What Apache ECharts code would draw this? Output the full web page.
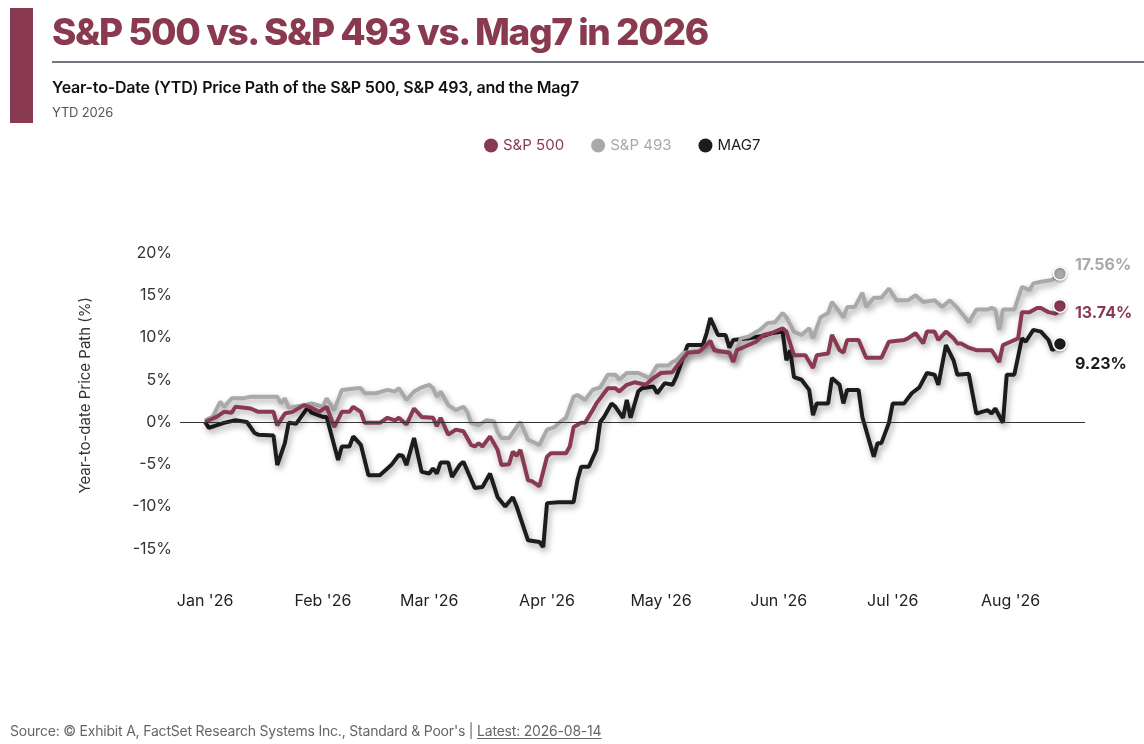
<!DOCTYPE html>
<html>
<head>
<meta charset="utf-8">
<script src="https://cdn.jsdelivr.net/npm/echarts@6/dist/echarts.min.js"></script>
<style>
  html, body { margin:0; padding:0; background:#fff; }
  #wrap { position:relative; width:1144px; height:744px; overflow:hidden; font-family:Inter, "Noto Sans", sans-serif; }
  #chart { position:absolute; left:0; top:0; width:1144px; height:744px; }
  #bar { position:absolute; left:10px; top:8px; width:23px; height:115px; background:#8a3a50; }
  #title { position:absolute; left:52px; top:9px; font-size:37px; font-weight:800; color:#8a3a50; letter-spacing:-1.4px; white-space:nowrap; line-height:46px; }
  #rule { position:absolute; left:52px; top:61px; right:0; height:2px; background:#6f7782; }
  #subtitle { position:absolute; left:52px; top:77px; font-size:16px; font-weight:600; color:#111; letter-spacing:-0.2px; white-space:nowrap; line-height:20px; }
  #ytd { position:absolute; left:52px; top:104px; font-size:13px; color:#555; letter-spacing:-0.2px; white-space:nowrap; line-height:17px; }
  #footer { position:absolute; left:10px; top:722px; font-size:14px; color:#666; letter-spacing:-0.2px; white-space:nowrap; line-height:18px; }
  #footer u { text-decoration:underline; text-underline-offset:2px; }
</style>
</head>
<body>
<div id="wrap">
  <div id="chart"></div>
  <div id="bar"></div>
  <div id="title">S&amp;P 500 vs. S&amp;P 493 vs. Mag7 in 2026</div>
  <div id="rule"></div>
  <div id="subtitle">Year-to-Date (YTD) Price Path of the S&amp;P 500, S&amp;P 493, and the Mag7</div>
  <div id="ytd">YTD 2026</div>
  <div id="footer">Source: © Exhibit A, FactSet Research Systems Inc., Standard &amp; Poor's | <u>Latest: 2026-08-14</u></div>
</div>
<script>
// ---------------- DATA ----------------
const seriesNames = ['S&P 500', 'S&P 493', 'MAG7'];
const monthLabels = ["Jan", "Feb", "Mar", "Apr", "May", "Jun", "Jul", "Aug", "Sep", "Oct", "Nov", "Dec"];
const yTickLabels = ['-15%', '-10%', '-5%', '0%', '5%', '10%', '15%', '20%'];

const sp500Dates = ['2026-01-01','2026-01-04','2026-01-06','2026-01-08','2026-01-09','2026-01-13','2026-01-15','2026-01-19','2026-01-20','2026-01-22','2026-01-24','2026-01-27','2026-01-29','2026-01-31',
'2026-02-02','2026-02-04','2026-02-06','2026-02-08','2026-02-09','2026-02-11','2026-02-12','2026-02-16','2026-02-18','2026-02-20','2026-02-21','2026-02-23','2026-02-25','2026-02-27',
'2026-03-02','2026-03-03','2026-03-04','2026-03-06','2026-03-08','2026-03-10','2026-03-12','2026-03-13','2026-03-14','2026-03-15','2026-03-17','2026-03-19','2026-03-20','2026-03-22','2026-03-23','2026-03-24','2026-03-25','2026-03-27','2026-03-28','2026-03-30',
'2026-04-01','2026-04-02','2026-04-06','2026-04-07','2026-04-08','2026-04-10','2026-04-11','2026-04-13','2026-04-14','2026-04-17','2026-04-19','2026-04-20','2026-04-22','2026-04-24','2026-04-27','2026-04-29',
'2026-05-01','2026-05-04','2026-05-05','2026-05-07','2026-05-08','2026-05-11','2026-05-14','2026-05-15','2026-05-19','2026-05-20','2026-05-21','2026-05-23','2026-05-26','2026-05-28','2026-05-30',
'2026-06-02','2026-06-03','2026-06-05','2026-06-08','2026-06-10','2026-06-11','2026-06-14','2026-06-15','2026-06-17','2026-06-18','2026-06-19','2026-06-22','2026-06-24','2026-06-28','2026-06-30',
'2026-07-04','2026-07-05','2026-07-07','2026-07-09','2026-07-10','2026-07-12','2026-07-13','2026-07-15','2026-07-17','2026-07-18','2026-07-19','2026-07-21','2026-07-23','2026-07-27','2026-07-29','2026-07-30',
'2026-08-01','2026-08-03','2026-08-04','2026-08-06','2026-08-08','2026-08-09','2026-08-11','2026-08-13','2026-08-14'];
const sp500Values = [0,0.6,1.2,1.1,1.8,1.6,1.2,1.2,-0.4,1.0,1.2,2.0,1.7,1.2,
1.8,-0.6,1.2,1.2,1.8,1.2,-0.1,-0.1,0.5,0.2,0.5,-0.3,1.6,0.6,
0.5,-0.5,0.5,-1.5,-0.9,-1.1,-2.7,-2.9,-2.5,-2.9,-1.7,-3.3,-5.1,-5.0,-3.5,-4.0,-3.3,-6.9,-7.0,-7.6,
-4.1,-3.7,-3.7,-2.9,-0.6,-0.1,-0.1,1.4,2.2,4.0,4.0,3.6,4.4,4.7,4.4,5.2,
5.8,5.9,6.5,7.6,8.2,8.3,9.6,8.5,8.2,7.1,8.5,8.9,9.5,10.3,10.5,
11.1,10.7,7.9,7.9,6.4,7.9,8.1,10.3,8.5,8.2,9.7,9.7,7.6,7.6,9.5,
9.7,9.9,10.5,9.3,10.7,10.7,9.7,10.7,9.9,9.3,9.3,8.8,8.5,8.5,7.1,9.1,
9.5,9.9,13.0,13.0,13.5,13.5,13.0,12.8,13.74];

const sp493Dates = ['2026-01-01','2026-01-03','2026-01-05','2026-01-06','2026-01-08','2026-01-11','2026-01-13','2026-01-20','2026-01-21','2026-01-22','2026-01-23','2026-01-27','2026-01-29',
'2026-02-01','2026-02-02','2026-02-04','2026-02-06','2026-02-10','2026-02-11','2026-02-12','2026-02-15','2026-02-18','2026-02-20','2026-02-21','2026-02-23','2026-02-25','2026-02-27',
'2026-03-01','2026-03-02','2026-03-03','2026-03-04','2026-03-06','2026-03-08','2026-03-10','2026-03-11','2026-03-12','2026-03-14','2026-03-16','2026-03-18','2026-03-19','2026-03-20','2026-03-22','2026-03-24','2026-03-25','2026-03-27','2026-03-30',
'2026-04-01','2026-04-03','2026-04-05','2026-04-06','2026-04-08','2026-04-09','2026-04-11','2026-04-13','2026-04-15','2026-04-17','2026-04-19','2026-04-20','2026-04-22','2026-04-25','2026-04-26','2026-04-28','2026-04-30',
'2026-05-03','2026-05-04','2026-05-05','2026-05-07','2026-05-09','2026-05-12','2026-05-14','2026-05-16','2026-05-19','2026-05-20','2026-05-22','2026-05-24','2026-05-27','2026-05-29','2026-05-31',
'2026-06-02','2026-06-03','2026-06-05','2026-06-07','2026-06-09','2026-06-10','2026-06-12','2026-06-14','2026-06-15','2026-06-17','2026-06-18','2026-06-19','2026-06-21','2026-06-23','2026-06-24','2026-06-26','2026-06-28','2026-06-30',
'2026-07-02','2026-07-05','2026-07-07','2026-07-09','2026-07-12','2026-07-14','2026-07-16','2026-07-18','2026-07-20','2026-07-21','2026-07-23','2026-07-26','2026-07-27','2026-07-28','2026-07-29','2026-07-30',
'2026-08-02','2026-08-04','2026-08-06','2026-08-07','2026-08-09','2026-08-12','2026-08-13','2026-08-14'];
const sp493Values = [0.2,0.6,2.4,1.8,2.8,2.8,3.0,3.0,2.2,2.8,1.7,2.0,2.2,
1.8,2.8,1.4,3.8,4.0,4.0,3.4,3.4,3.8,3.6,4.0,2.6,3.6,4.1,
4.4,4.0,3.0,3.6,2.0,1.4,1.8,1.2,-0.1,-0.4,0.2,0.1,-1.2,-1.9,-1.9,-0.6,0,-2.1,-2.7,
-0.9,-0.6,0.2,0.5,3.0,3.2,2.6,3.8,4.1,5.6,5.6,5.0,5.8,5.8,5.6,5.2,6.7,
6.7,7.1,7.3,8.2,8.3,8.5,9.1,8.3,8.3,7.3,9.9,10.1,10.9,11.7,11.8,
12.9,12.4,10.7,10.3,11.1,9.9,12.4,12.9,14.2,13.0,12.4,13.6,13.6,15.3,13.6,14.7,14.7,15.8,
14.4,14.4,15.0,14.2,14.4,13.6,14.4,13.5,12.4,11.8,13.3,13.3,13.5,13.3,10.9,13.3,
13.3,16.0,15.6,16.4,16.6,16.8,17.2,17.56];

const mag7Dates = ['2026-01-01','2026-01-02','2026-01-06','2026-01-09','2026-01-12','2026-01-14','2026-01-15','2026-01-19','2026-01-20','2026-01-22','2026-01-23','2026-01-25','2026-01-28','2026-01-29',
'2026-02-01','2026-02-02','2026-02-05','2026-02-06','2026-02-08','2026-02-09','2026-02-11','2026-02-13','2026-02-16','2026-02-19','2026-02-21','2026-02-22','2026-02-23','2026-02-25','2026-02-27',
'2026-03-01','2026-03-02','2026-03-03','2026-03-04','2026-03-06','2026-03-07','2026-03-09','2026-03-10','2026-03-13','2026-03-15','2026-03-17','2026-03-19','2026-03-21','2026-03-23','2026-03-24','2026-03-27','2026-03-30','2026-03-31',
'2026-04-01','2026-04-04','2026-04-08','2026-04-09','2026-04-10','2026-04-12','2026-04-14','2026-04-15','2026-04-16','2026-04-18','2026-04-19','2026-04-21','2026-04-22','2026-04-23','2026-04-25','2026-04-26','2026-04-29','2026-04-30',
'2026-05-02','2026-05-04','2026-05-05','2026-05-08','2026-05-12','2026-05-13','2026-05-14','2026-05-16','2026-05-18','2026-05-19','2026-05-20','2026-05-24','2026-05-28','2026-05-30',
'2026-06-02','2026-06-03','2026-06-04','2026-06-05','2026-06-07','2026-06-09','2026-06-10','2026-06-11','2026-06-14','2026-06-15','2026-06-17','2026-06-18','2026-06-19','2026-06-22','2026-06-23','2026-06-26','2026-06-27','2026-06-28','2026-06-30',
'2026-07-01','2026-07-04','2026-07-06','2026-07-08','2026-07-10','2026-07-12','2026-07-13','2026-07-15','2026-07-17','2026-07-18','2026-07-21','2026-07-23','2026-07-26','2026-07-27','2026-07-28','2026-07-30','2026-07-31',
'2026-08-02','2026-08-04','2026-08-05','2026-08-07','2026-08-09','2026-08-11','2026-08-12','2026-08-13','2026-08-14'];
const mag7Values = [0,-0.7,-0.1,0.2,0,-1.3,-1.5,-1.6,-5.1,-2.5,-0.1,-0.2,1.7,1.1,
0.6,0.6,-4.5,-2.9,-2.9,-1.7,-2.7,-6.3,-6.3,-5.1,-3.9,-4.0,-5.1,-1.9,-5.9,
-6.1,-5.5,-6.1,-4.8,-4.8,-6.5,-5.1,-4.7,-7.8,-7.7,-6.1,-8.9,-10.0,-8.9,-10.0,-14.0,-14.2,-14.8,
-9.6,-9.5,-9.5,-6.9,-5.3,-5.3,-3.3,0,0.6,2.2,1.8,0.5,2.6,0.5,3.6,4.0,4.2,3.4,
4.6,4.4,5.3,9.1,9.1,10.5,12.3,10.3,10.3,8.8,9.7,9.9,10.2,10.5,
10.7,7.3,8.5,5.3,5.0,3.8,0.8,2.2,2.2,5.2,4.4,2.2,3.8,3.8,0.6,-4.1,-2.5,-2.5,-0.1,
2.2,2.2,3.4,4.1,5.8,5.6,4.4,9.1,7.3,5.6,5.7,1.0,1.4,1.0,1.6,-0.1,5.6,
5.6,9.9,9.5,10.9,10.7,9.7,8.5,8.8,9.23];

// ---------------- CHART ----------------
const colors = { 'S&P 500': '#8a3a50', 'S&P 493': '#a9a9a9', 'MAG7': '#1c1c1c' };
const DAY = 86400000;
const jan1 = new Date(2026, 0, 1).getTime();
const xMin = jan1 - 6.6 * DAY;
const xMax = jan1 + 231.6 * DAY;

function pairs(dates, vals) { return dates.map((d, i) => [d, vals[i]]); }

function makeSeries(name, dates, vals, labelOffsetY) {
  const last = [dates[dates.length - 1], vals[vals.length - 1]];
  return {
    name: name,
    type: 'line',
    data: pairs(dates, vals),
    symbol: 'none',
    smooth: false,
    lineStyle: {
      color: colors[name], width: 4,
      shadowColor: 'rgba(0,0,0,0.35)', shadowBlur: 6, shadowOffsetX: 2, shadowOffsetY: 3.5
    },
    itemStyle: { color: colors[name] },
    endLabel: {
      show: true, distance: 15, offset: [0, labelOffsetY],
      formatter: p => p.value[1].toFixed(2) + '%',
      color: colors[name], fontSize: 16, fontWeight: 700, fontFamily: 'Inter'
    },
    markPoint: {
      symbol: 'circle', symbolSize: 13, silent: true,
      label: { show: false },
      itemStyle: { color: colors[name], borderColor: '#fff', borderWidth: 1.5,
        shadowColor: 'rgba(0,0,0,0.3)', shadowBlur: 3, shadowOffsetY: 1 },
      data: [{ coord: last }]
    },
    z: 3
  };
}

const chart = echarts.init(document.getElementById('chart'), null, { renderer: 'canvas' });
chart.setOption({
  animation: false,
  textStyle: { fontFamily: 'Inter' },
  legend: {
    data: seriesNames.map(n => ({ name: n, textStyle: { color: colors[n] } })),
    left: 479, top: 133,
    icon: 'circle', itemWidth: 14, itemHeight: 14, itemGap: 27,
    textStyle: { fontSize: 15, fontFamily: 'Inter' }
  },
  grid: { left: 180, right: 59, top: 253, bottom: 153, containLabel: false },
  xAxis: {
    type: 'time', min: xMin, max: xMax,
    minInterval: 28 * DAY, maxInterval: 31 * DAY,
    axisLine: { show: false }, axisTick: { show: false }, splitLine: { show: false },
    axisLabel: {
      margin: 2, fontSize: 16, color: '#222', fontFamily: 'Inter',
      formatter: v => { const d = new Date(v); return monthLabels[d.getMonth()] + " '" + String(d.getFullYear()).slice(2); },
      showMinLabel: false, showMaxLabel: false
    }
  },
  yAxis: {
    type: 'value', min: -20, max: 20, interval: 5,
    axisLine: { show: false }, axisTick: { show: false }, splitLine: { show: false },
    axisLabel: {
      margin: 8, fontSize: 16, color: '#333', fontFamily: 'Inter',
      formatter: v => { const s = v + '%'; return yTickLabels.indexOf(s) >= 0 ? s : ''; }
    }
  },
  graphic: [{
    type: 'text', left: 78, top: 297, rotation: Math.PI / 2,
    style: { text: 'Year-to-date Price Path (%)', fontSize: 15, fill: '#333', fontFamily: 'Inter' }
  }],
  series: [
    Object.assign(makeSeries('MAG7', mag7Dates, mag7Values, 20), {
      markLine: {
        silent: true, symbol: 'none', label: { show: false },
        lineStyle: { color: '#333', width: 1, type: 'solid' },
        data: [{ yAxis: 0 }]
      }
    }),
    makeSeries('S&P 493', sp493Dates, sp493Values, -8),
    makeSeries('S&P 500', sp500Dates, sp500Values, 7)
  ]
});
</script>
</body>
</html>
